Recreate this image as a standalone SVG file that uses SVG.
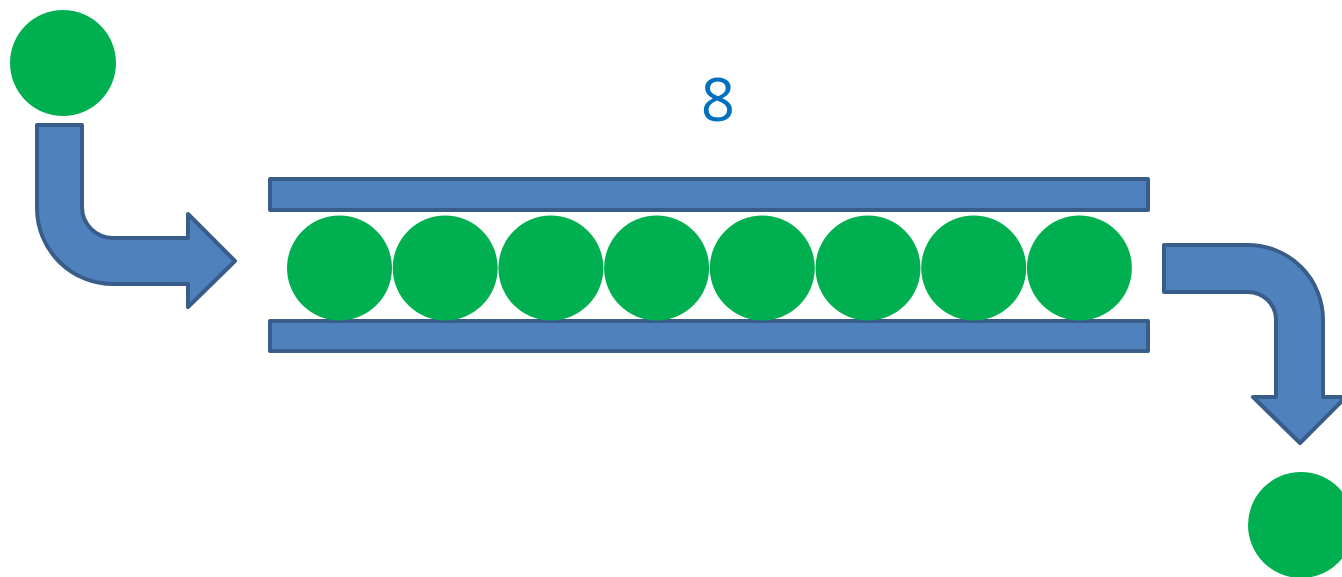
<svg xmlns="http://www.w3.org/2000/svg" width="1342" height="577" viewBox="0 0 1342 577">
<style>
.ball{fill:#00B050}
.blue{fill:#4F81BD;stroke:#385D8A;stroke-width:4;stroke-linejoin:round}
.lbl{font-family:"Open Sans","Liberation Sans",sans-serif;font-size:60px;fill:#0070C0;text-anchor:middle}
</style>
<rect width="1342" height="577" fill="#ffffff"/>
<g id="ball-in"><circle class="ball" cx="63" cy="63" r="53"/></g>
<g id="ball-out"><circle class="ball" cx="1301" cy="525" r="53"/></g>
<g id="label"><text class="lbl" x="718" y="121">8</text></g>
<g id="tube">
<rect class="blue" x="270" y="179" width="878" height="31"/>
<rect class="blue" x="270" y="321" width="878" height="30"/>
</g>
<g id="balls">
<circle class="ball" cx="339.5" cy="268" r="52.5"/>
<circle class="ball" cx="445.2" cy="268" r="52.5"/>
<circle class="ball" cx="550.9" cy="268" r="52.5"/>
<circle class="ball" cx="656.6" cy="268" r="52.5"/>
<circle class="ball" cx="762.3" cy="268" r="52.5"/>
<circle class="ball" cx="868" cy="268" r="52.5"/>
<circle class="ball" cx="973.7" cy="268" r="52.5"/>
<circle class="ball" cx="1079.4" cy="268" r="52.5"/>
</g>
<g id="connectors">
<path class="blue" d="M37,125 L82,125 L82,207 A31,31 0 0 0 113,238 L188,238 L188,214 L235,261 L188,307 L188,284 L113,284 A76,76 0 0 1 37,208 Z"/>
<path class="blue" d="M1164,245 L1248,245 A75,75 0 0 1 1323,320 L1323,397 L1346,397 L1300,443 L1253,397 L1276,397 L1276,320 A28,28 0 0 0 1248,292 L1164,292 Z"/>
</g>
</svg>
